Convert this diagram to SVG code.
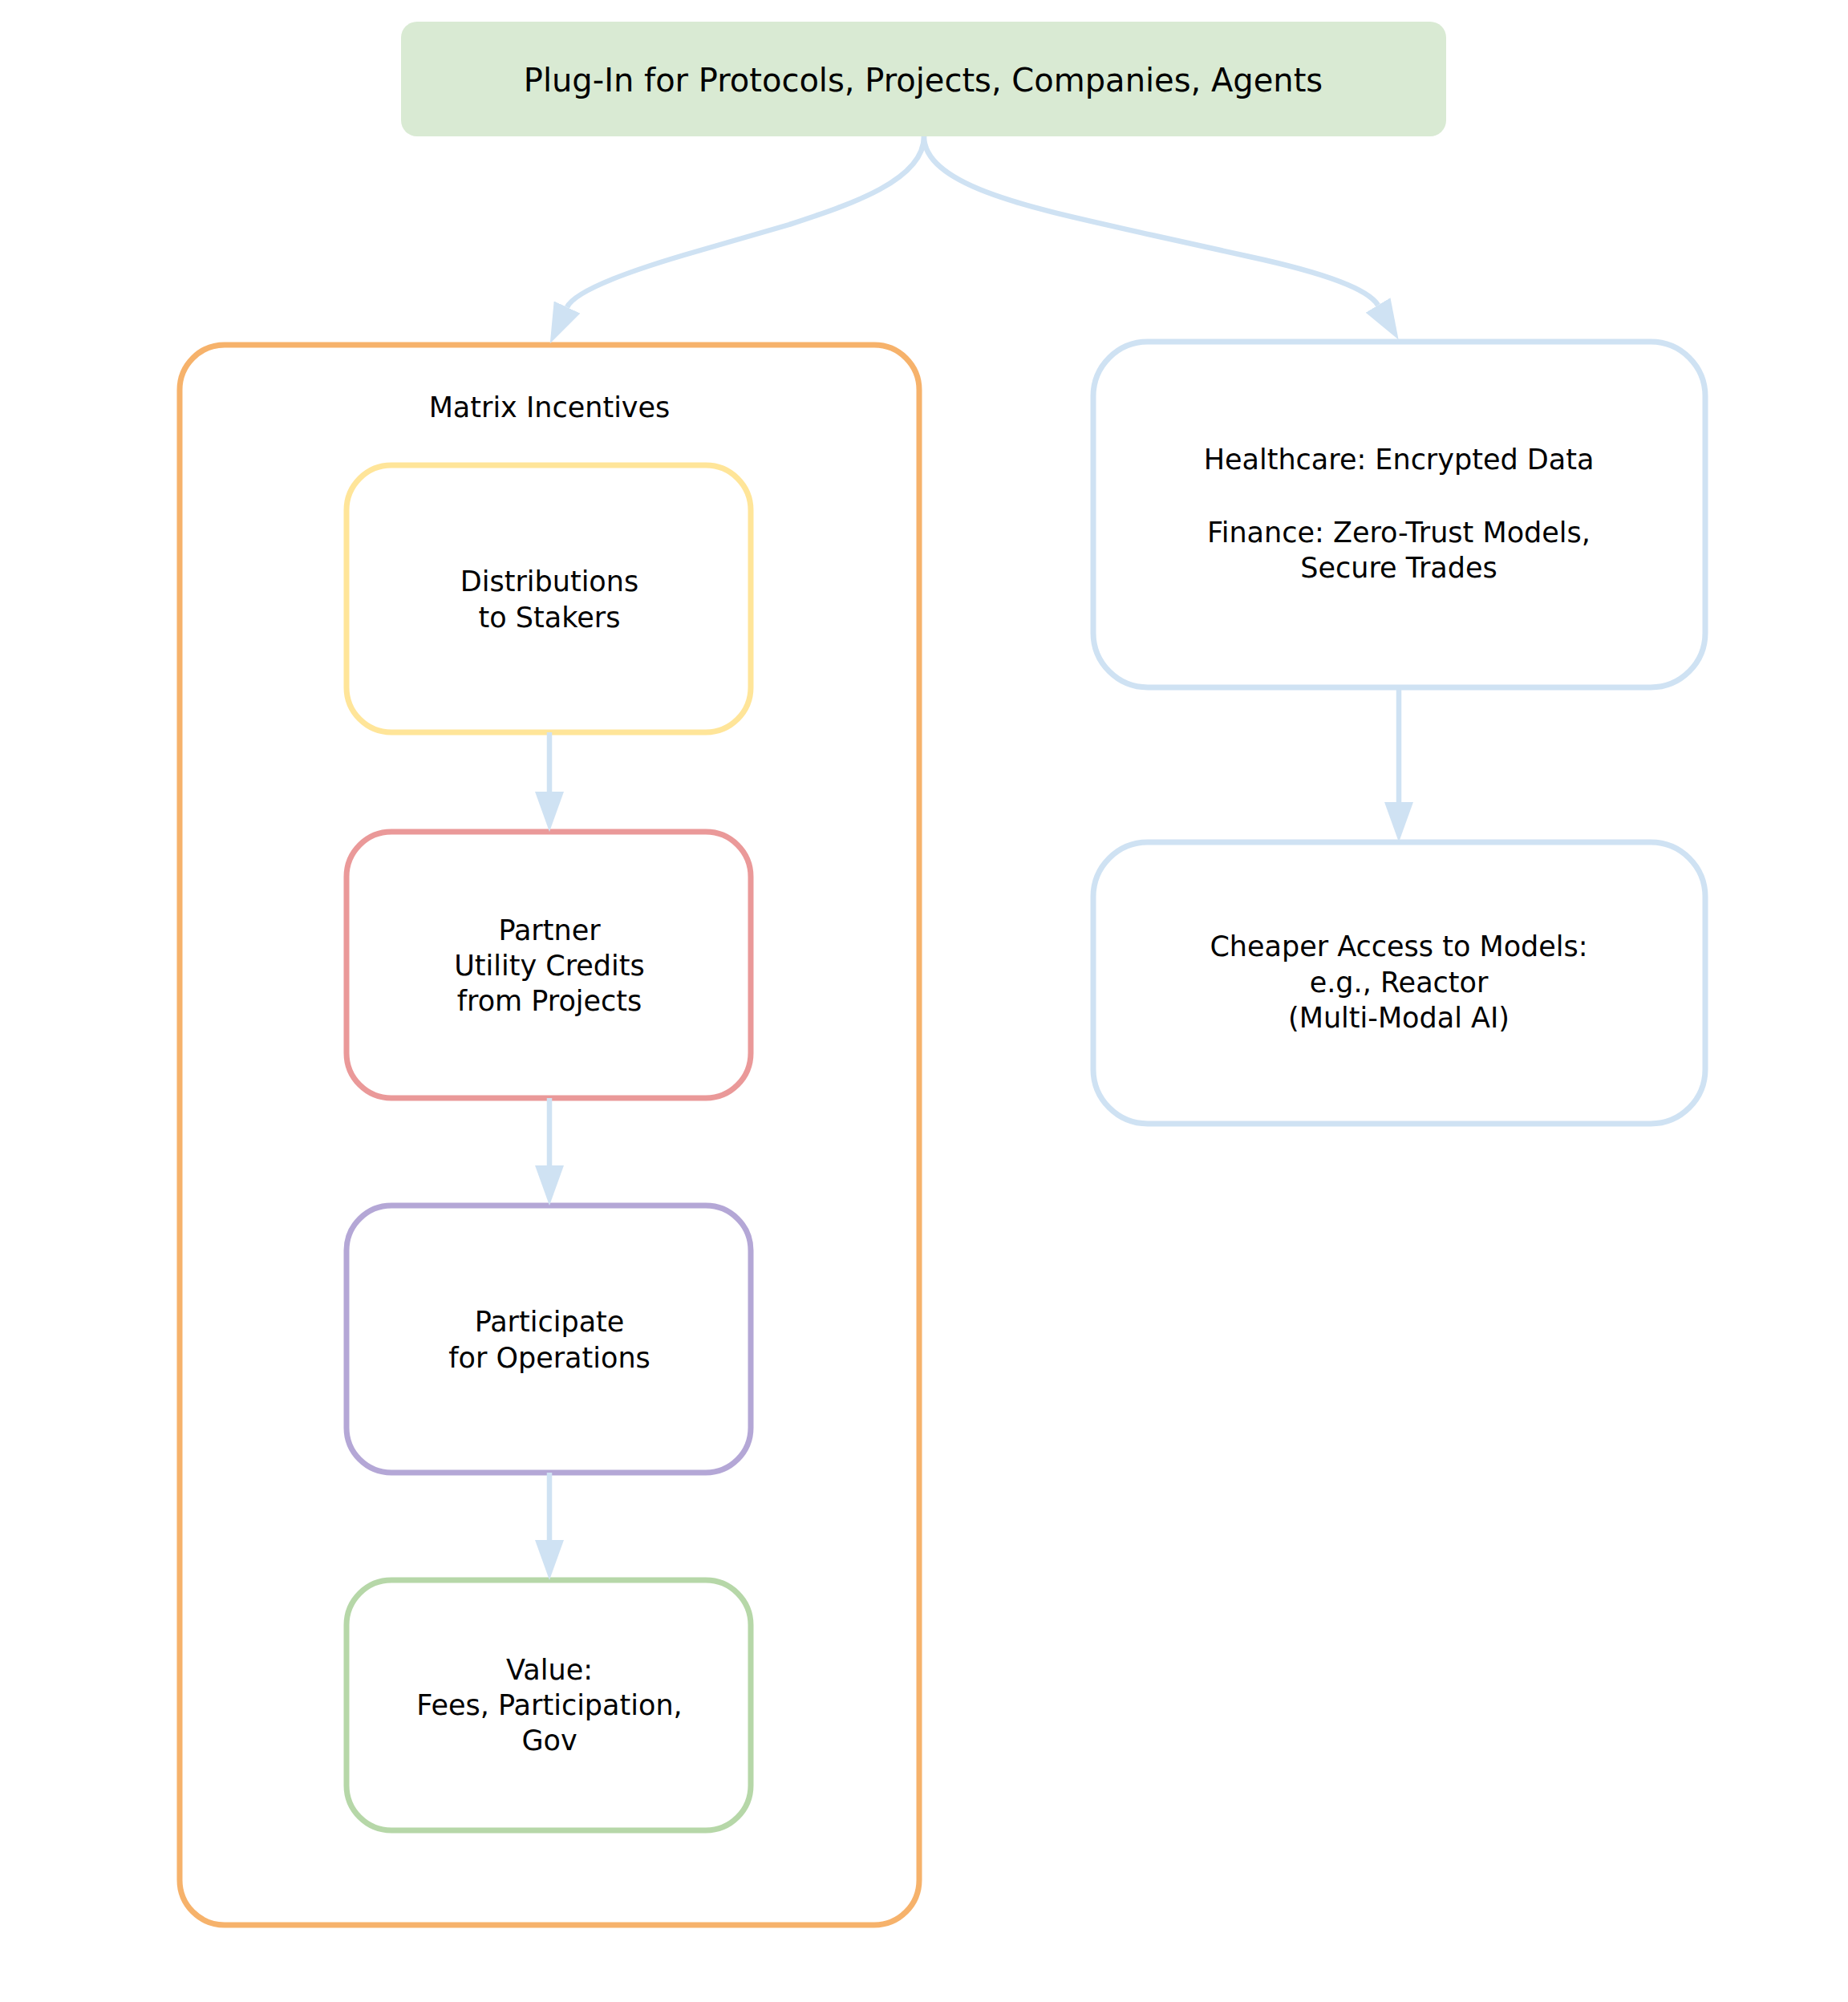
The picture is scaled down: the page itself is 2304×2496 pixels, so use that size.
<svg xmlns="http://www.w3.org/2000/svg" width="2304" height="2496" viewBox="0 0 2304 2496">
<style>
  .lbl { font-family: "DejaVu Sans", "Liberation Sans", sans-serif; font-size: 35px; fill: #000; text-anchor: middle; }
  .top { font-size: 40px; }
  .box { fill: #ffffff; stroke-width: 7; }
  .edge { fill: none; stroke: #cfe2f3; stroke-width: 6.5; }
</style>
<defs>
  <marker id="arrow" viewBox="0 0 50 36" refX="0" refY="18" markerWidth="50" markerHeight="36" markerUnits="userSpaceOnUse" orient="auto">
    <path d="M0,0 L50,18 L0,36 z" fill="#cfe2f3"/>
  </marker>
</defs>
<rect width="2304" height="2496" fill="#ffffff"/>

<g id="cluster-matrix">
  <rect x="224" y="430" width="922" height="1970" rx="56" ry="56" fill="#ffffff" stroke="#f6b26b" stroke-width="7"/>
  <text class="lbl" x="685" y="520">Matrix Incentives</text>
</g>

<g id="node-plugin">
  <rect x="500" y="27" width="1303" height="143" rx="20" ry="20" fill="#d9ead3"/>
  <text class="lbl top" x="1151" y="114">Plug-In for Protocols, Projects, Companies, Agents</text>
</g>

<g id="node-distributions">
  <rect class="box" x="432" y="580" width="504" height="333" rx="56" ry="56" stroke="#ffe599"/>
  <text class="lbl" x="685" y="737">Distributions</text>
  <text class="lbl" x="685" y="782">to Stakers</text>
</g>

<g id="node-partner">
  <rect class="box" x="432" y="1037" width="504" height="332" rx="56" ry="56" stroke="#ea9999"/>
  <text class="lbl" x="685" y="1172">Partner</text>
  <text class="lbl" x="685" y="1216">Utility Credits</text>
  <text class="lbl" x="685" y="1260">from Projects</text>
</g>

<g id="node-participate">
  <rect class="box" x="432" y="1503" width="504" height="333" rx="56" ry="56" stroke="#b4a7d6"/>
  <text class="lbl" x="685" y="1660">Participate</text>
  <text class="lbl" x="685" y="1705">for Operations</text>
</g>

<g id="node-value">
  <rect class="box" x="432" y="1970" width="504" height="312" rx="56" ry="56" stroke="#b6d7a8"/>
  <text class="lbl" x="685" y="2094">Value:</text>
  <text class="lbl" x="685" y="2138">Fees, Participation,</text>
  <text class="lbl" x="685" y="2182">Gov</text>
</g>

<g id="node-healthcare">
  <rect class="box" x="1363" y="426" width="763" height="431" rx="68" ry="68" stroke="#cfe2f3"/>
  <text class="lbl" x="1744" y="585">Healthcare: Encrypted Data</text>
  <text class="lbl" x="1744" y="676">Finance: Zero-Trust Models,</text>
  <text class="lbl" x="1744" y="720">Secure Trades</text>
</g>

<g id="node-cheaper">
  <rect class="box" x="1363" y="1050" width="763" height="351" rx="68" ry="68" stroke="#cfe2f3"/>
  <text class="lbl" x="1744" y="1192">Cheaper Access to Models:</text>
  <text class="lbl" x="1744" y="1237">e.g., Reactor</text>
  <text class="lbl" x="1744" y="1281">(Multi-Modal AI)</text>
</g>

<g id="edges">
  <path class="edge" marker-end="url(#arrow)" d="M1152,170 C1152,225 1060,255 984,280 L870,313 C800,333 717.6,360.4 707,383"/>
  <path class="edge" marker-end="url(#arrow)" d="M1152,170 C1152,235 1300,262 1436,293 L1558,320 C1618,333 1702.6,354.7 1718,380.5"/>
  <path class="edge" marker-end="url(#arrow)" d="M685,913 L685,987"/>
  <path class="edge" marker-end="url(#arrow)" d="M685,1369 L685,1453"/>
  <path class="edge" marker-end="url(#arrow)" d="M685,1836 L685,1920"/>
  <path class="edge" marker-end="url(#arrow)" d="M1744,857 L1744,1000"/>
</g>
</svg>
